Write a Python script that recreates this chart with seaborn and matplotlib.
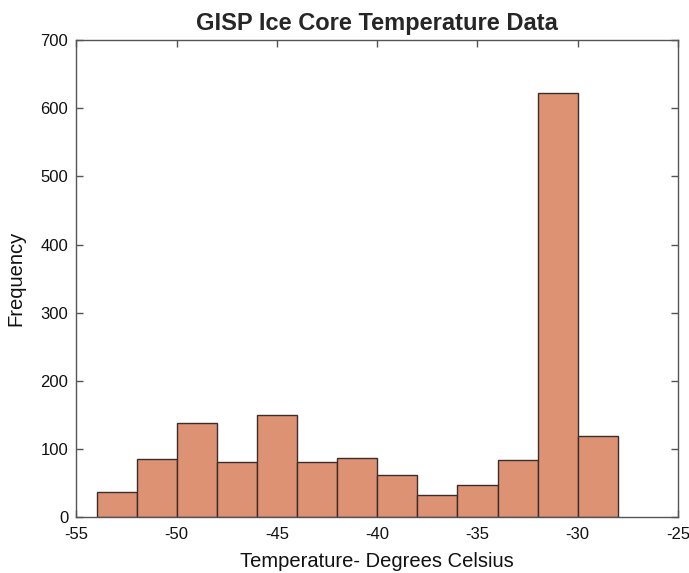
import numpy as np
import pandas as pd
import matplotlib
matplotlib.use("Agg")
import matplotlib.pyplot as plt
import seaborn as sns

bin_edges = [-54, -52, -50, -48, -46, -44, -42, -40, -38, -36, -34, -32, -30, -28]
counts = [38, 86, 138, 82, 150, 82, 87, 62, 33, 48, 84, 622, 119]
x_ticks = [-55, -50, -45, -40, -35, -30, -25]
y_ticks = [0, 100, 200, 300, 400, 500, 600, 700]

centers = [(a + b) / 2 for a, b in zip(bin_edges[:-1], bin_edges[1:])]
df = pd.DataFrame({"temp": centers, "count": counts})

sns.set_style("ticks")
plt.rcParams['font.family'] = ['Liberation Sans', 'DejaVu Sans']

fig = plt.figure(figsize=(6.89, 5.73), dpi=100)
ax = fig.add_axes([0.111, 0.097, 0.873, 0.833])

sns.histplot(data=df, x="temp", weights="count", bins=bin_edges, ax=ax,
             color="#DE9274", alpha=1.0, edgecolor="#3a2e2c", linewidth=1.0)

ax.set_xlim(-55, -25)
ax.set_ylim(0, 700)
ax.set_xticks(x_ticks)
ax.set_yticks(y_ticks)
ax.set_xticklabels([str(t) for t in x_ticks])
ax.set_yticklabels([str(t) for t in y_ticks])
ax.tick_params(direction="in", top=True, right=True, length=5, width=1,
               labelsize=12, color="#555555", labelcolor="#111111")
ax.tick_params(axis="x", pad=7)
ax.tick_params(axis="y", pad=6)
for s in ax.spines.values():
    s.set_visible(True)
    s.set_linewidth(1.0)
    s.set_color("#555555")

ax.set_xlabel("Temperature- Degrees Celsius", fontsize=14.5, color="#111111", labelpad=7)
ax.set_ylabel("Frequency", fontsize=14.5, color="#111111", labelpad=11)
ax.set_title("GISP Ice Core Temperature Data", fontsize=17, fontweight="bold", pad=7)

fig.savefig("out.png", dpi=100)
